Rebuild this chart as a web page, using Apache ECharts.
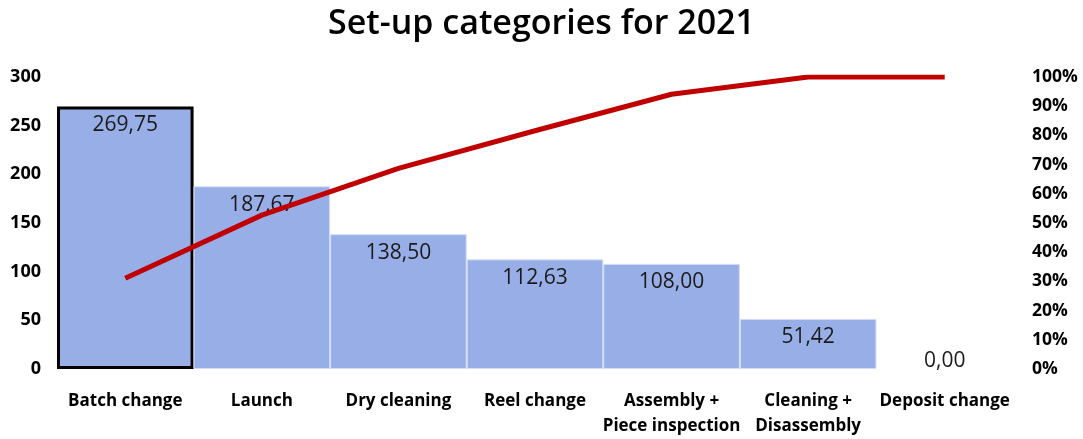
<!DOCTYPE html>
<html>
<head>
<meta charset="utf-8">
<script src="https://cdn.jsdelivr.net/npm/echarts@6/dist/echarts.min.js"></script>
<style>
  html, body { margin: 0; padding: 0; background: #fff; }
  #chart { width: 1083px; height: 439px; }
</style>
</head>
<body>
<div id="chart"></div>
<script>
// Set-up time per category (hours) and cumulative share (%)
const categories = ['Batch change', 'Launch', 'Dry cleaning', 'Reel change',
  'Assembly +\nPiece inspection', 'Cleaning +\nDisassembly', 'Deposit change'];
const setupHours = [269.75, 187.67, 138.50, 112.63, 108.00, 51.42, 0.00];
const cumulativePct = [31.1, 52.7, 68.7, 81.6, 94.1, 100, 100];
const leftTicks = [0, 50, 100, 150, 200, 250, 300];
const rightTicks = [0, 10, 20, 30, 40, 50, 60, 70, 80, 90, 100];

const FONT = '"Open Sans", "Noto Sans", sans-serif';
const fmt = v => v.toFixed(2).replace('.', ',');

const barData = setupHours.map((v, i) => {
  const d = { value: v };
  if (i === 0) {
    d.itemStyle = { borderColor: '#000', borderWidth: 3 };
  }
  if (v === 0) {
    d.itemStyle = { borderWidth: 0 };
    d.label = { position: 'top', distance: -3 };
  }
  return d;
});

const chart = echarts.init(document.getElementById('chart'), null, { renderer: 'canvas' });
chart.setOption({
  animation: false,
  title: {
    text: 'Set-up categories for 2021',
    left: 'center',
    top: 2,
    textStyle: { fontFamily: FONT, fontSize: 34, fontWeight: 600, color: '#000' }
  },
  grid: { left: 57, right: 70, top: 77, bottom: 65 },
  xAxis: {
    type: 'category',
    data: categories,
    axisLine: { show: false },
    axisTick: { show: false },
    axisLabel: {
      interval: 0, margin: 20, lineHeight: 25,
      fontFamily: FONT, fontSize: 17, fontWeight: 'bold', color: '#000'
    }
  },
  yAxis: [
    {
      type: 'value', min: 0, max: 300, interval: 50,
      splitLine: { show: false },
      axisLine: { show: false }, axisTick: { show: false },
      axisLabel: {
        margin: 16, fontFamily: FONT, fontSize: 18, fontWeight: 'bold', color: '#000',
        formatter: v => leftTicks.includes(v) ? String(v) : ''
      }
    },
    {
      type: 'value', min: 0, max: 100, interval: 10,
      splitLine: { show: false },
      axisLine: { show: false }, axisTick: { show: false },
      axisLabel: {
        margin: 19, fontFamily: FONT, fontSize: 17.5, fontWeight: 'bold', color: '#000',
        formatter: v => rightTicks.includes(v) ? v + '%' : ''
      }
    }
  ],
  series: [
    {
      type: 'bar',
      yAxisIndex: 0,
      data: barData,
      barWidth: '100%',
      barGap: '0%',
      itemStyle: { color: '#98aee6', borderColor: '#d3ddf5', borderWidth: 1 },
      label: {
        show: true, position: 'insideTop', distance: 8,
        fontFamily: FONT, fontSize: 21, color: '#1a1a1a',
        formatter: p => fmt(p.value)
      },
      z: 2
    },
    {
      type: 'line',
      yAxisIndex: 1,
      data: cumulativePct,
      symbol: 'none',
      smooth: false,
      lineStyle: { color: '#c00000', width: 5 },
      z: 3
    }
  ]
});
</script>
</body>
</html>
